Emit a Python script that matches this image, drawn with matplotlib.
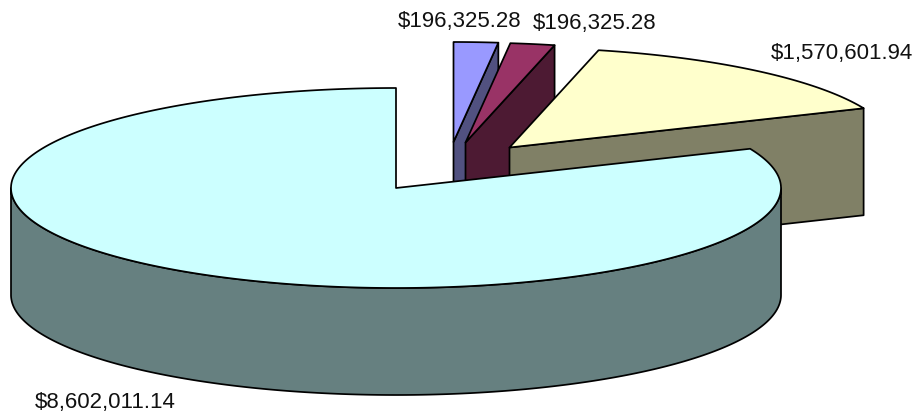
import numpy as np
import matplotlib
matplotlib.use("Agg")
import matplotlib.pyplot as plt
from matplotlib.patches import Polygon

# Data
values = [196325.28, 196325.28, 1570601.94, 8602011.14]
top_colors = ["#9999FF", "#993366", "#FFFFCC", "#CCFFFF"]
side_colors = ["#515180", "#4D1A33", "#808066", "#668080"]

# Pie geometry (pixels)
RX, RY, DEPTH = 385.0, 100.0, 107.0
centers = [(453.5, 142.0), (465.5, 142.5), (509.5, 147.5), (396.0, 188.0)]
label_pos = [(397.5, 22), (533, 24), (771, 53), (35, 402.5)]
LW = 1.25
EDGE = "black"

plt.rcParams["font.family"] = ["Liberation Sans", "DejaVu Sans"]
fig = plt.figure(figsize=(9.13, 4.16), dpi=100, facecolor="white")
ax = fig.add_axes([0, 0, 1, 1])
ax.set_xlim(0, 913)
ax.set_ylim(416, 0)
ax.axis("off")

fracs = np.array(values) / np.sum(values)
edges = np.concatenate([[0.0], np.cumsum(fracs)]) * 2 * np.pi


def pt(c, t, dz=0.0):
    t = np.asarray(t)
    return np.column_stack([c[0] + RX * np.sin(t), c[1] - RY * np.cos(t) + dz])


def poly(xy, color, z):
    ax.add_patch(Polygon(xy, closed=True, facecolor=color, edgecolor=EDGE,
                         linewidth=LW, joinstyle="round", zorder=z))


for i, c in enumerate(centers):
    a, b = edges[i], edges[i + 1]
    z = 10 if i == 3 else 1 + i
    if i < 3:
        # back-facing cut wall running from the apex to the slice's end angle
        end = pt(c, [b])[0]
        poly([c, end, end + [0, DEPTH], (c[0], c[1] + DEPTH)], side_colors[i], z)
    else:
        # outer rim of the large slice, visible from 90 to 270 degrees
        t = np.linspace(np.pi / 2, 3 * np.pi / 2, 300)
        poly(np.vstack([pt(c, t), pt(c, t[::-1], DEPTH)]), side_colors[i], z)
    # top face
    t = np.linspace(a, b, 400)
    poly(np.vstack([[c], pt(c, t)]), top_colors[i], z + 0.5)

for v, (x, y) in zip(values, label_pos):
    ax.text(x, y, f"${v:,.2f}", fontsize=16, color="#111111",
            ha="left", va="center", zorder=20)

fig.savefig("out.png", dpi=100, facecolor="white")
